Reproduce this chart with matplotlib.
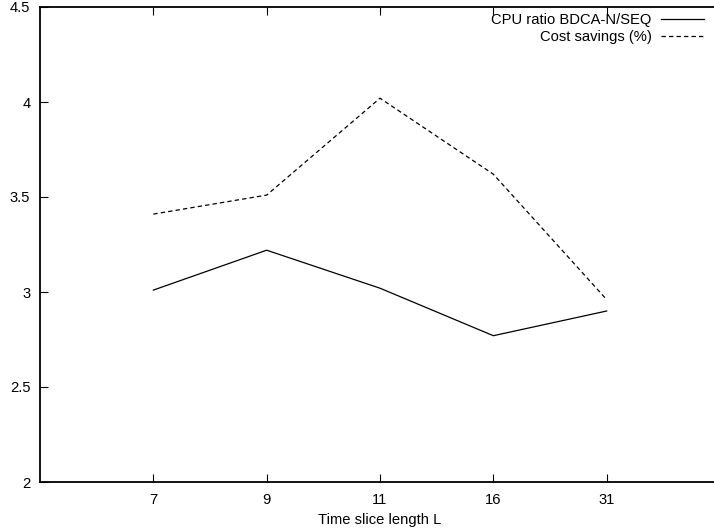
import matplotlib.pyplot as plt
from matplotlib.lines import Line2D

# Dados
slice_lengths = ['7', '9', '11', '16', '31']
cpu_ratio = [3.01, 3.22, 3.02, 2.77, 2.90]
cost_savings = [3.41, 3.51, 4.02, 3.62, 2.96]

W, H = 714, 529
fig = plt.figure(figsize=(W / 100, H / 100), dpi=100)
plt.rcParams['font.family'] = ['Liberation Sans', 'DejaVu Sans']
fs = 10.6

# eixo (a borda direita fica fora da imagem, como no original)
ax = fig.add_axes([40 / W, 1 - 482 / H, 680 / W, 475 / H])

pos = list(range(1, len(slice_lengths) + 1))
ax.plot(pos, cpu_ratio, color='black', lw=0.9, label='CPU ratio BDCA-N/SEQ')
ax.plot(pos, cost_savings, color='black', lw=0.9, linestyle=(0, (3.5, 2.5)),
        label='Cost savings (%)')

ax.set_xlim(0, 6)
ax.set_ylim(2, 4.5)
ax.set_xticks(pos)
ax.set_xticklabels(slice_lengths)
ax.set_yticks([2, 2.5, 3, 3.5, 4, 4.5])
ax.set_yticklabels(['2', '2.5', '3', '3.5', '4', '4.5'])
ax.tick_params(direction='in', length=6, width=0.8, top=True, right=False,
               labelsize=fs, pad=7, colors='black')
ax.tick_params(axis='x', pad=8)
for s in ax.spines.values():
    s.set_linewidth(1.3)

ax.set_xlabel('Time slice length L', fontsize=fs, labelpad=4)

handles = [Line2D([], [], color='black', lw=0.9),
           Line2D([], [], color='black', lw=0.9, linestyle=(0, (3.5, 2.5)))]
ax.legend(handles, ['CPU ratio BDCA-N/SEQ', 'Cost savings (%)'],
          loc='upper right', bbox_to_anchor=(704 / W, 1 - 13 / H),
          bbox_transform=fig.transFigure, frameon=False, markerfirst=False,
          fontsize=fs, handlelength=2.9, handletextpad=0.65, labelspacing=0.22,
          borderaxespad=0, borderpad=0)

fig.savefig('out.png', dpi=100)
